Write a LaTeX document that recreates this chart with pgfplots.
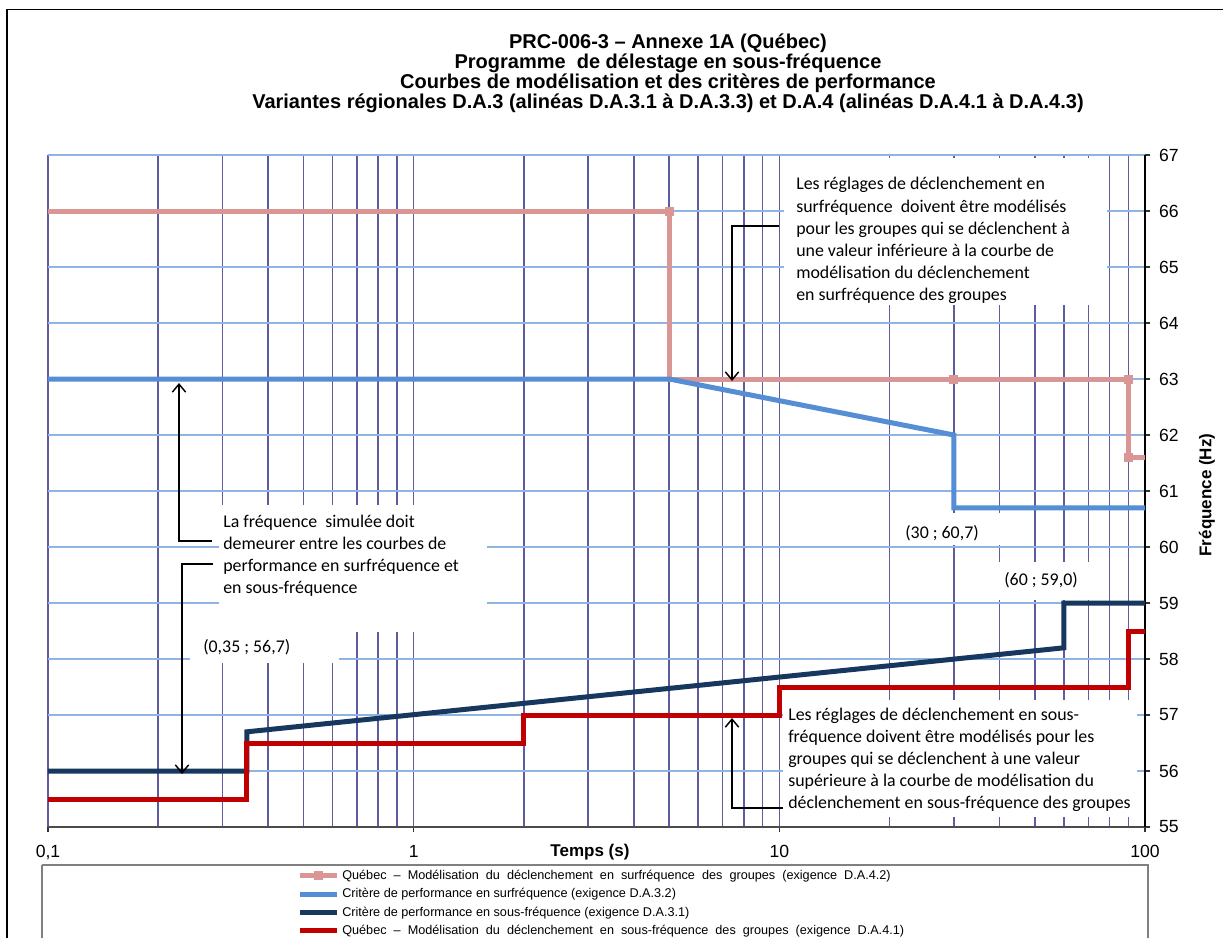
\documentclass[border=0pt]{standalone}
\usepackage{fontspec}
\setmainfont{Liberation Sans}
\newfontfamily\calib{Carlito}
\usepackage{pgfplots}
\pgfplotsset{compat=1.18}
\usetikzlibrary{arrows.meta}
\definecolor{cpink}{RGB}{217,150,148}
\definecolor{cpinkm}{RGB}{238,196,195}
\definecolor{cblue}{RGB}{85,142,213}
\definecolor{cnavy}{RGB}{23,55,94}
\definecolor{cred}{RGB}{192,0,0}
\definecolor{vgrid}{RGB}{92,92,158}
\definecolor{hgrid}{RGB}{141,180,226}
\newcommand\afont{\calib\fontsize{13.4}{16.5}\selectfont}
\begin{document}
\begin{tikzpicture}
\begin{scope}[x=0.75pt,y=-0.75pt]
\draw[line width=1pt, black] (7,938) -- (7,9.5) -- (1223,9.5);
\begin{scope}[font=\bfseries\fontsize{15}{18}\selectfont]
\node[anchor=base] at (668,49) {PRC-006-3 – Annexe 1A (Québec)};
\node[anchor=base] at (668,69) {Programme\ \ de délestage en sous-fréquence};
\node[anchor=base] at (668,89) {Courbes de modélisation et des critères de performance};
\node[anchor=base] at (668,109) {Variantes régionales D.A.3 (alinéas D.A.3.1 à D.A.3.3) et D.A.4 (alinéas D.A.4.1 à D.A.4.3)};
\end{scope}
\end{scope}

% axis 1: grid and ticks
\begin{axis}[at={(36pt,-620.25pt)}, anchor=south west, scale only axis,
  width=822.75pt, height=504pt,
  xmode=log, xmin=0.1, xmax=100, ymin=55, ymax=67,
  axis x line*=bottom, axis y line*=right,
  x axis line style={black!70, line width=0.9pt},
  y axis line style={black, line width=0.9pt},
  xtick={0.1,1,10,100}, xticklabels={0{,}1,1,10,100},
  minor xtick={0.2,0.3,0.4,0.5,0.6,0.7,0.8,0.9,2,3,4,5,6,7,8,9,20,30,40,50,60,70,80,90},
  ytick={55,56,...,67},
  tick align=outside, major tick length=4pt, minor tick length=0pt,
  tick style={black!80, line width=0.8pt},
  xmajorgrids, xminorgrids, ymajorgrids,
  major x grid style={vgrid, line width=1.15pt},
  minor x grid style={vgrid, line width=1.15pt},
  major y grid style={hgrid, line width=0.95pt},
  /pgf/number format/assume math mode=true,
  ticklabel style={font=\fontsize{13.2}{15}\selectfont},
  xticklabel style={yshift=-6pt},
  yticklabel style={xshift=3pt},
]
\addplot[draw=none] coordinates {(1,60)};
\end{axis}

% white annotation boxes
\begin{scope}[x=0.75pt,y=-0.75pt]
\fill[white] (784,158) rectangle (1107,305);
\fill[white] (219,505) rectangle (487,632);
\fill[white] (190,632) rectangle (339,663);
\fill[white] (897,513) rectangle (1005,545);
\fill[white] (998,562) rectangle (1092,600);
\fill[white] (783,700) rectangle (1137,817);
\end{scope}

% axis 2: data
\begin{axis}[at={(36pt,-620.25pt)}, anchor=south west, scale only axis,
  width=822.75pt, height=504pt,
  xmode=log, xmin=0.1, xmax=100, ymin=55, ymax=67,
  hide axis,
  legend style={at={(axis description cs:0.227,-0.062)}, anchor=north west,
    draw=none, fill=none, inner sep=0pt, row sep=3.2pt, column sep=2pt,
    font=\fontsize{9.5}{11}\selectfont,
    nodes={inner sep=0pt, text height=8pt, text depth=2.5pt, anchor=west}},
  legend cell align=left,
  legend image code/.code={\draw[mark repeat=2,mark phase=2,#1] plot coordinates {(0pt,0pt) (14pt,0pt) (28pt,0pt)};},
]
\addplot[cpink, line width=3.75pt, mark=square*, mark size=1.5pt, mark indices={2,4,5,6}, mark options={fill=cpinkm, draw=none}]
  coordinates {(0.1,66) (5,66) (5,63) (30,63) (90,63) (90,61.6) (100,61.6)};
\addlegendentry{Québec\ \ –\ \ Modélisation\ \ du\ \ déclenchement\ \ en\ \ surfréquence\ \ des\ \ groupes\ \ (exigence\ \ D.A.4.2)}
\addplot[cblue, line width=3.75pt, mark=none]
  coordinates {(0.1,63) (5,63) (30,62) (30,60.7) (100,60.7)};
\addlegendentry{Critère de performance en surfréquence (exigence D.A.3.2)}
\addplot[cnavy, line width=3.75pt, mark=none]
  coordinates {(0.1,56) (0.35,56) (0.35,56.7) (60,58.2) (60,59) (100,59)};
\addlegendentry{Critère de performance en sous-fréquence (exigence D.A.3.1)}
\addplot[cred, line width=3.75pt, mark=none]
  coordinates {(0.1,55.5) (0.35,55.5) (0.35,56.5) (2,56.5) (2,57) (10,57) (10,57.5) (90,57.5) (90,58.5) (100,58.5)};
\addlegendentry{Québec\ \ –\ \ Modélisation\ \ du\ \ déclenchement\ \ en\ \ sous-fréquence\ \ des\ \ groupes\ \ (exigence\ \ D.A.4.1)}
\end{axis}

\begin{scope}[x=0.75pt,y=-0.75pt]
% axis labels
\node[font=\bfseries\fontsize{12.75}{15}\selectfont] at (590,852) {Temps (s)};
\node[font=\bfseries\fontsize{12.75}{15}\selectfont, rotate=90] at (1207,495) {Fréquence (Hz)};
% legend frame
\draw[black!50, line width=0.8pt] (42,865) -- (42,938) (1148,938) -- (1148,865) -- (42,865);
% annotations
\begin{scope}[font=\afont, every node/.style={anchor=base west, inner sep=0pt}]
\node at (796,190) {Les réglages de déclenchement en};
\node at (796,212) {surfréquence\ \ doivent être modélisés};
\node at (796,234) {pour les groupes qui se déclenchent à};
\node at (796,256) {une valeur inférieure\ à la courbe de};
\node at (796,278) {modélisation du déclenchement};
\node at (796,300) {en surfréquence des groupes};
\node at (223,527) {La fréquence\ \ simulée doit};
\node at (223,549) {demeurer\ entre les courbes de};
\node at (223,571) {performance\ en surfréquence et};
\node at (223,593) {en sous-fréquence};
\node at (203,652) {(0,35 ; 56,7)};
\node at (905,538) {(30 ; 60,7)};
\node at (1004,585) {(60 ; 59,0)};
\node at (788,720) {Les réglages de déclenchement en sous-};
\node at (788,742) {fréquence doivent être modélisés pour les};
\node at (788,764) {groupes qui se déclenchent à une valeur};
\node at (788,786) {supérieure à la courbe de modélisation du};
\node at (788,808) {déclenchement en sous-fréquence\ des groupes};
\end{scope}
% arrows
\begin{scope}[line width=1.1pt, -{Straight Barb[length=6pt,width=10pt]}]
\draw (779,226) -- (732,226) -- (732,381);
\draw (212,541) -- (179,541) -- (179,383);
\draw (213,564) -- (182,564) -- (182,774);
\draw (783,808) -- (732,808) -- (732,718);
\end{scope}
\pgfresetboundingbox
\path[use as bounding box] (0,0) rectangle (1223,938);
\end{scope}
\end{tikzpicture}
\end{document}
